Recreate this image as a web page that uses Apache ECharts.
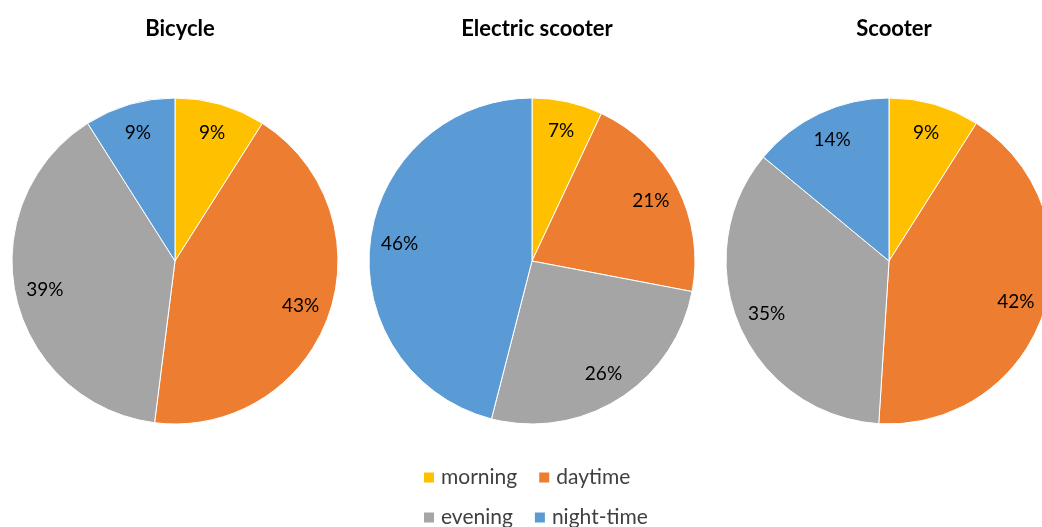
<!DOCTYPE html>
<html>
<head>
<meta charset="utf-8">
<script src="https://cdn.jsdelivr.net/npm/echarts@6/dist/echarts.min.js"></script>
<style>
  html, body { margin: 0; padding: 0; background: #fff; }
  #chart { width: 1042px; height: 527px; }
</style>
</head>
<body>
<div id="chart"></div>
<script>
// Share of trips by time of day, per vehicle type (percent)
const periods = ['morning', 'daytime', 'evening', 'night-time'];
const vehicles = ['Bicycle', 'Electric scooter', 'Scooter'];
const bicycle = [9, 43, 39, 9];
const electricScooter = [7, 21, 26, 46];
const scooter = [9, 42, 35, 14];
const colors = ['#FFC000', '#ED7D31', '#A5A5A5', '#5B9BD5'];

const seriesValues = [bicycle, electricScooter, scooter];
const centersX = [175, 532, 889];
const centerY = 261;
const radius = 163;
const font = 'Lato, "Open Sans", "Liberation Sans", sans-serif';

const series = [];
seriesValues.forEach((vals, i) => {
  const data = periods.map((p, j) => ({ name: p, value: vals[j] }));
  // filled slices
  series.push({
    type: 'pie',
    center: [centersX[i], centerY],
    radius: [0, radius],
    startAngle: 90,
    clockwise: true,
    silent: true,
    label: { show: false },
    labelLine: { show: false },
    itemStyle: { borderColor: '#fff', borderWidth: 1 },
    data: data
  });
  // percentage labels placed in the outer ring of each slice
  series.push({
    type: 'pie',
    center: [centersX[i], centerY],
    radius: [radius * 0.6, radius],
    startAngle: 90,
    clockwise: true,
    silent: true,
    legendHoverLink: false,
    itemStyle: { color: 'rgba(0,0,0,0)' },
    emphasis: { disabled: true },
    label: {
      show: true,
      position: 'inside',
      formatter: '{c}%',
      color: '#000',
      fontSize: 19,
      fontFamily: font
    },
    labelLine: { show: false },
    data: data
  });
});

const titles = vehicles.map((v, i) => ({
  text: v,
  left: centersX[i],
  top: 13,
  textAlign: 'center',
  textStyle: { fontSize: 22, fontWeight: 'bold', color: '#000', fontFamily: font }
}));

const legendCommon = {
  left: 422,
  orient: 'horizontal',
  icon: 'rect',
  padding: 0,
  itemWidth: 12,
  itemHeight: 12,
  itemGap: 20,
  selectedMode: false,
  textStyle: { fontSize: 21, color: '#404040', fontFamily: font, width: 80, padding: [0, 0, 0, 1] }
};

const option = {
  animation: false,
  color: colors,
  title: titles,
  legend: [
    Object.assign({}, legendCommon, { top: 467, data: periods.slice(0, 2) }),
    Object.assign({}, legendCommon, { top: 507, data: periods.slice(2, 4) })
  ],
  series: series
};

const chart = echarts.init(document.getElementById('chart'));
chart.setOption(option);
</script>
</body>
</html>
